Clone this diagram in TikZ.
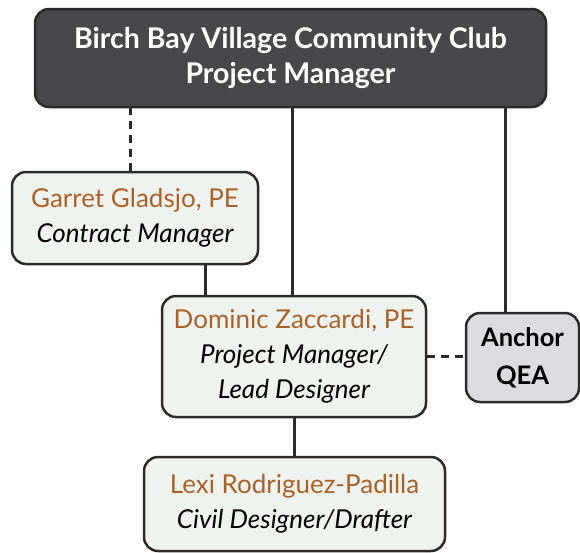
\documentclass[tikz,border=0pt]{standalone}
\usepackage{fontspec}
\setmainfont{Lato}
\definecolor{orgDark}{HTML}{48484A}
\definecolor{orgLine}{HTML}{2B2B2B}
\definecolor{orgName}{HTML}{A8622A}
\definecolor{orgPale}{HTML}{EFF3EF}
\definecolor{orgGrey}{HTML}{DCDCDE}
\tikzset{
  orgHead/.style={
    draw=orgLine,
    fill=orgDark,
    text=white,
    rounded corners=14pt,
    line width=2.5pt,
    align=center,
    inner sep=0pt,
    font=\fontsize{28.5}{35}\selectfont\bfseries
  },
  orgPerson/.style={
    draw=orgLine,
    fill=orgPale,
    rounded corners=14pt,
    line width=2.5pt,
    align=center,
    inner sep=0pt,
    font=\fontsize{26}{35}\selectfont
  },
  orgFirm/.style={
    orgPerson,
    fill=orgGrey,
    font=\fontsize{25.5}{38}\selectfont\bfseries
  },
  orgLink/.style={orgLine, line width=3pt},
  orgDashed/.style={orgLink, dash pattern=on 8pt off 6pt}
}
\newcommand{\orgName}[1]{{\color{orgName}#1}}

\begin{document}
\begin{tikzpicture}[x=1pt,y=-1pt]
  \useasboundingbox (0,0) rectangle (580,552);
  \node[orgHead, minimum width=511pt, minimum height=98pt]
    (club) at (290.5,58)
    {Birch Bay Village Community Club\\Project Manager};
  \node[orgPerson, minimum width=246pt, minimum height=92pt]
    (garret) at (135,218)
    {\orgName{Garret Gladsjo, PE}\\\itshape Contract Manager};
  \node[orgPerson, minimum width=264pt, minimum height=121pt]
    (dominic) at (294,356.5)
    {\orgName{Dominic Zaccardi, PE}\\\itshape Project Manager/\\\itshape Lead Designer};
  \node[orgFirm, minimum width=113pt, minimum height=89pt]
    (anchor) at (522.5,357.5)
    {Anchor\\QEA};
  \node[orgPerson, minimum width=301pt, minimum height=94pt]
    (lexi) at (294.5,504)
    {\orgName{Lexi Rodriguez-Padilla}\\\itshape Civil Designer/Drafter};

  \draw[orgDashed] ([xshift=-5pt]garret.north) -- ([xshift=-5pt]garret.north |- club.south);
  \draw[orgLink] ([xshift=-2pt]dominic.north) -- ([xshift=-2pt]dominic.north |- club.south);
  \draw[orgLink] ([xshift=-17.5pt]anchor.north) -- ([xshift=-17.5pt]anchor.north |- club.south);
  \draw[orgLink] ([xshift=70pt]garret.south) -- ([xshift=70pt]garret.south |- dominic.north);
  \draw[orgDashed] (dominic.east) -- (dominic.east -| anchor.west);
  \draw[orgLink] (dominic.south) -- (dominic.south -| lexi.north) -- (lexi.north);
\end{tikzpicture}
\end{document}
